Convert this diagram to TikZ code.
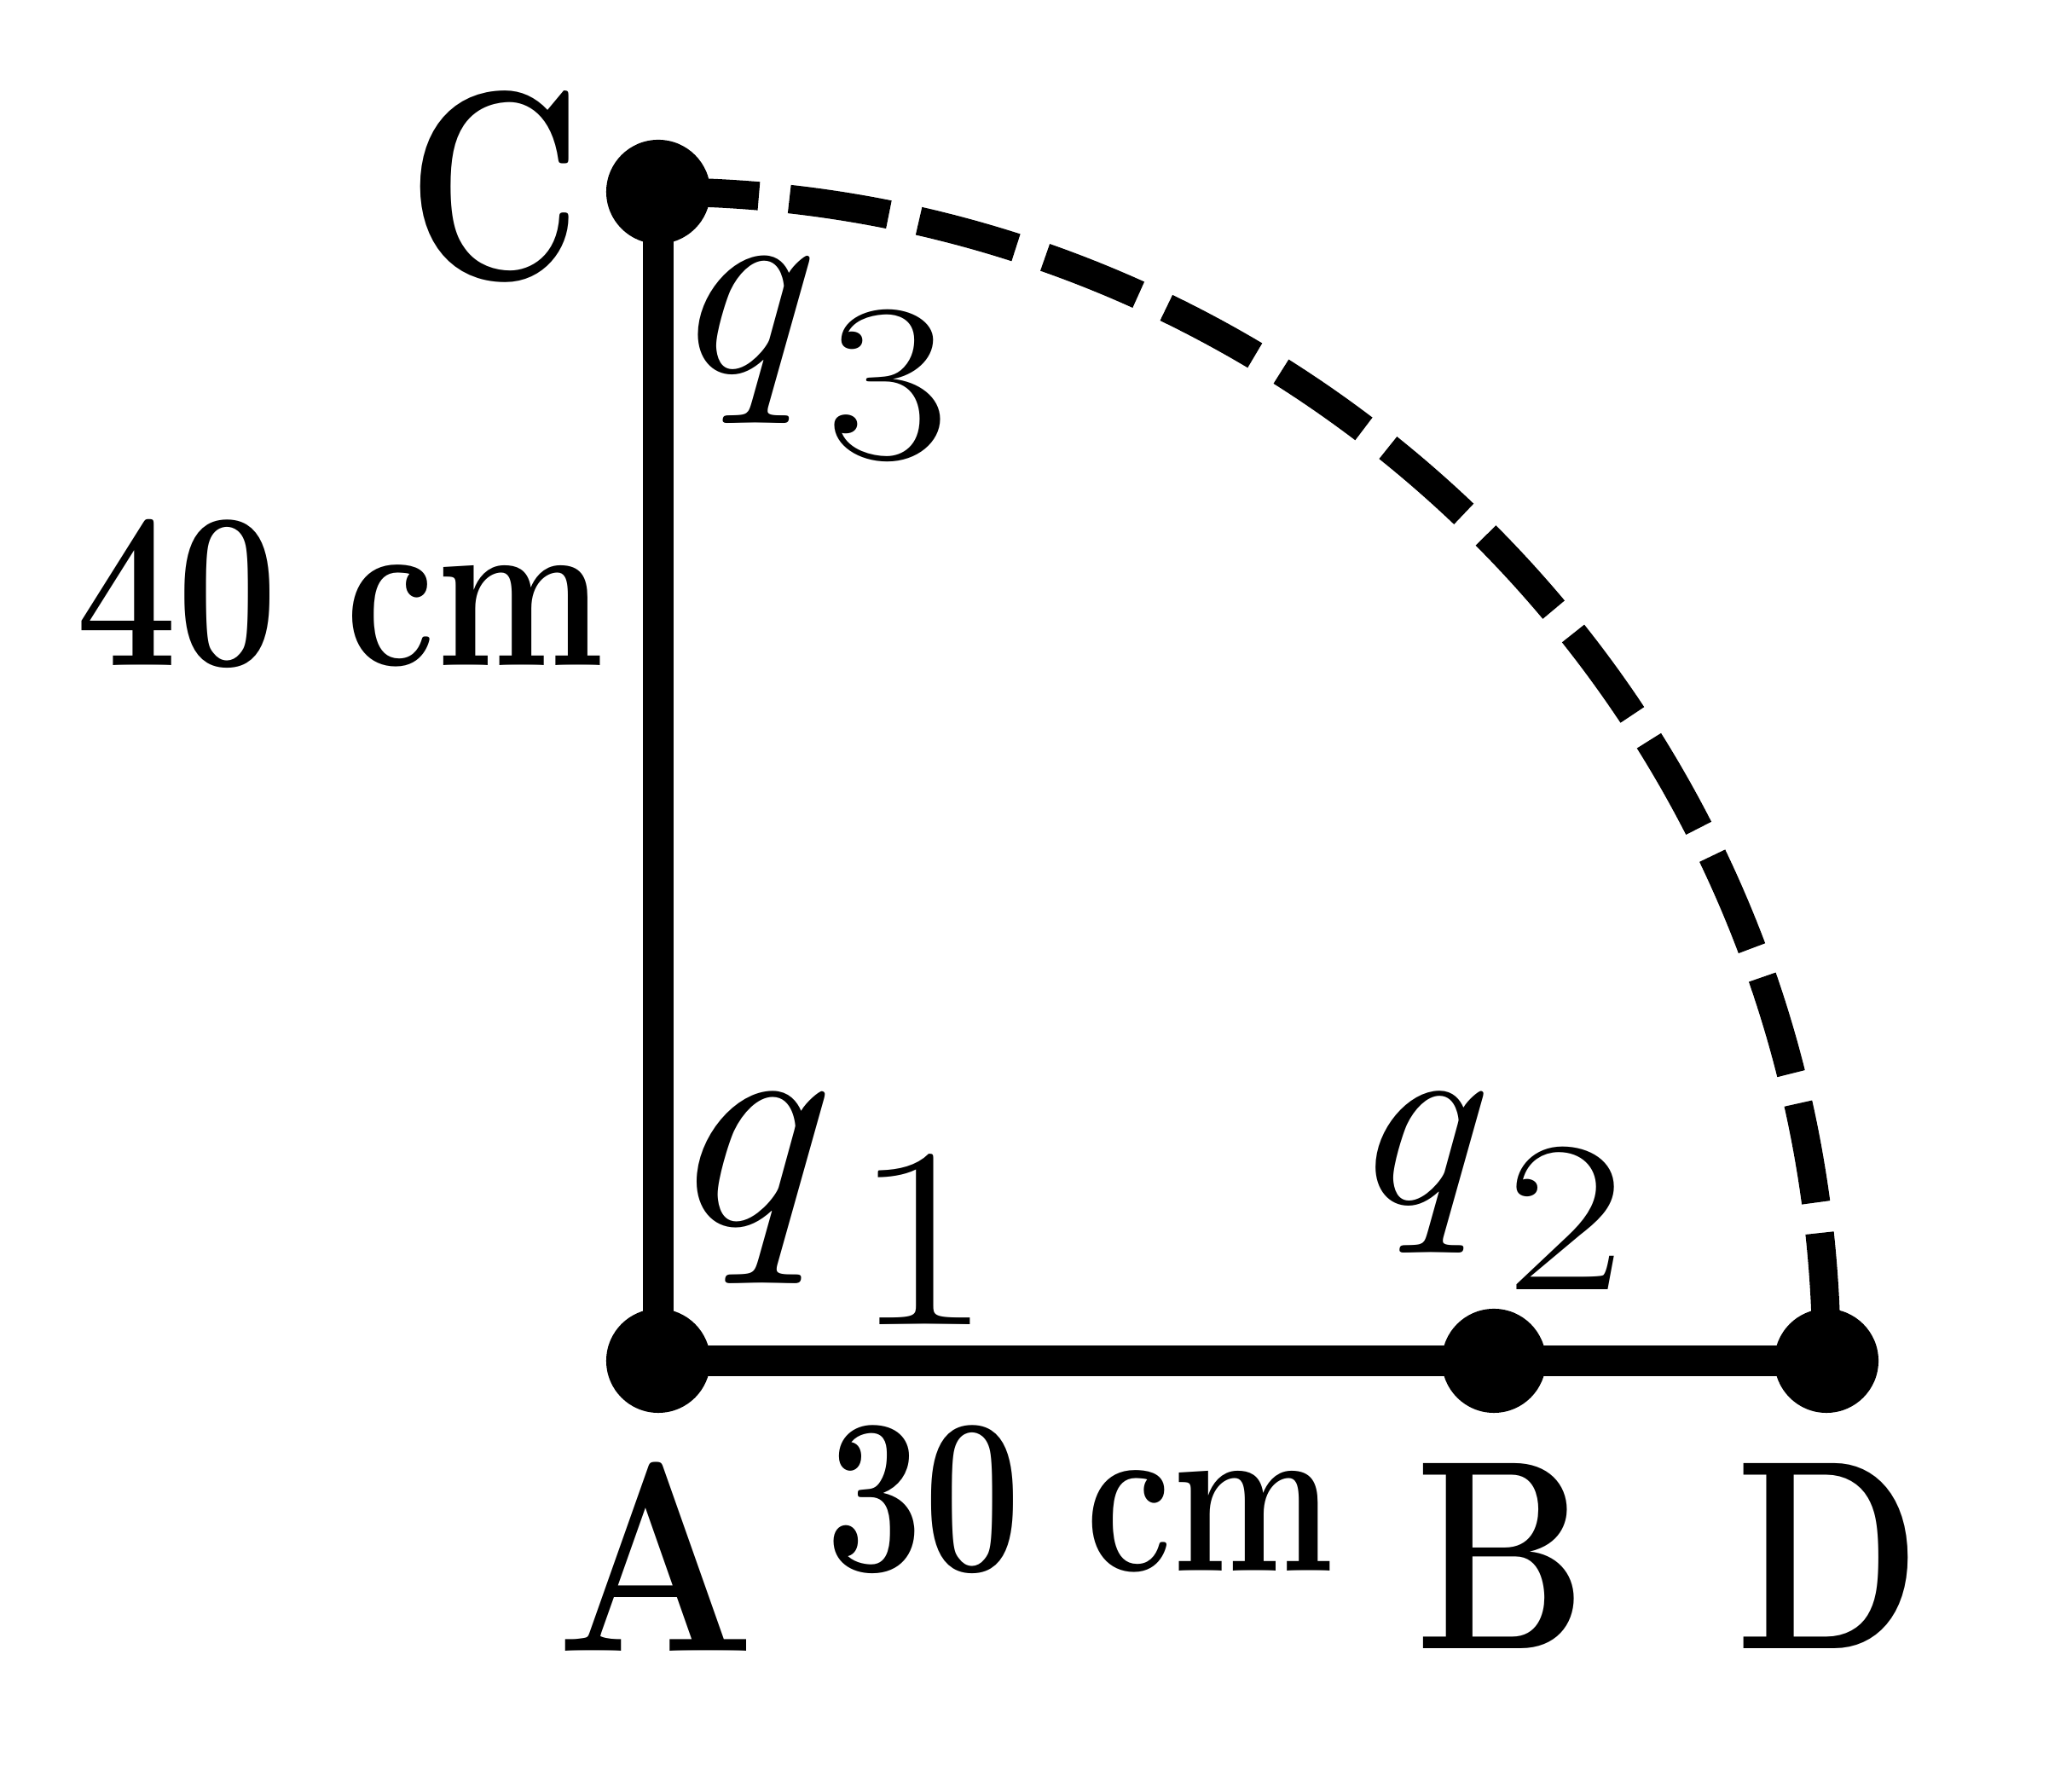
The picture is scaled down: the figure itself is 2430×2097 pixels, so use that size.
\documentclass[tikz,border=0pt]{standalone}
\begin{document}
\begin{tikzpicture}[x=0.01cm,y=0.01cm,
  seg/.style={line width=10.2pt},
  arcline/.style={line width=9.5pt, dash pattern=on 1.18cm off 0.36cm},
  dot/.style={circle, fill=black, inner sep=0pt, minimum size=1.22cm},
  lbl/.style={inner sep=0pt},
  chg/.style={inner sep=0pt, anchor=base west}]
\newcommand{\ptlabel}[2][0.8]{\scalebox{#1}[1]{\fontsize{90}{90}\selectfont\bfseries #2}}
\newcommand{\dimlabel}[2]{\scalebox{#2}[1]{\fontsize{74}{74}\selectfont\bfseries #1}}
\newcommand{\qlabel}[5]{\scalebox{1.12}[1]{\fontsize{#1}{#1}\selectfont\itshape q}\kern #4cm\raisebox{-#3cm}{\scalebox{1.2}[1]{\fontsize{#2}{#2}\selectfont #5}}}
\useasboundingbox (0,0) rectangle (2430,2097);
\coordinate (A) at (772,501);
\coordinate (C) at (772,1872);
\coordinate (B) at (1752,501);
\coordinate (D) at (2142,501);
\draw[arcline] (C) arc[start angle=90, end angle=0, radius=1370];
\draw[seg] (C) -- (A) -- (D);
\node[dot] (nA) at (A) {};
\node[dot] (nB) at (B) {};
\node[dot] (nC) at (C) {};
\node[dot] (nD) at (D) {};
\node[lbl] (lC) at (580,1878) {\ptlabel{C}};
\node[lbl] (lA) at (770,271) {\ptlabel[0.87]{A}};
\node[lbl] (lB) at (1761,272) {\ptlabel{B}};
\node[lbl] (lD) at (2145,272) {\ptlabel{D}};
\node[lbl] (d40) at (399,1401) {\dimlabel{40 cm}{0.81}};
\node[lbl] (d30) at (1267,338) {\dimlabel{30 cm}{0.78}};
\node[chg] (q3) at (781,1660) {\qlabel{88}{75}{1.0}{0.31}{3}};
\node[chg] (q1) at (774,660) {\qlabel{101}{86}{1.16}{0.45}{1}};
\node[chg] (q2) at (1577,685) {\qlabel{85}{72}{1.0}{0.38}{2}};
\end{tikzpicture}
\end{document}
